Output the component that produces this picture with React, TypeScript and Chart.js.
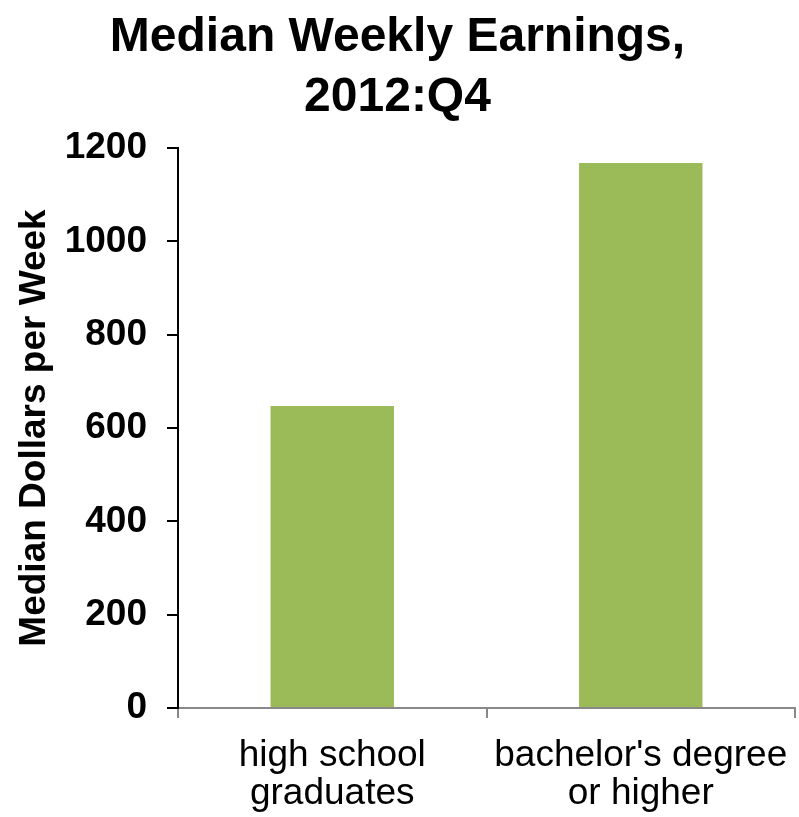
import React, { useEffect, useRef } from "react";
import { Chart, registerables } from "chart.js";

Chart.register(...registerables);

const titleLines = ["Median Weekly Earnings,", "2012:Q4"];
const categories = [["high school", "graduates"], ["bachelor's degree", "or higher"]];
const earnings = [647, 1168];
const yAxisTitle = "Median Dollars per Week";
const yMin = 0;
const yMax = 1200;
const yStep = 200;

const FONT = "'Liberation Sans', Arial, Helvetica, sans-serif";

export default function App() {
  const ref = useRef<HTMLCanvasElement | null>(null);

  useEffect(() => {
    if (!ref.current) return;
    const chart = new Chart(ref.current, {
      type: "bar",
      data: {
        labels: categories,
        datasets: [
          {
            data: earnings,
            backgroundColor: "#9BBB59",
            borderWidth: 0,
            barPercentage: 0.8,
            categoryPercentage: 0.5,
          },
        ],
      },
      options: {
        animation: false,
        responsive: true,
        maintainAspectRatio: false,
        layout: { padding: { left: 0, right: 4, top: 0, bottom: 0 } },
        plugins: {
          legend: { display: false },
          tooltip: { enabled: false },
          title: {
            display: true,
            text: titleLines,
            color: "#000",
            font: { family: FONT, size: 48, weight: "bold", lineHeight: 1.25 },
            padding: { top: 8, bottom: 20 },
          },
        },
        scales: {
          x: {
            z: 1,
            grid: {
              display: true,
              drawOnChartArea: false,
              drawTicks: true,
              tickLength: 10,
              color: "#888888",
              lineWidth: 2,
            },
            border: { display: true, color: "#888888", width: 2 },
            ticks: {
              color: "#000",
              font: { family: FONT, size: 37, lineHeight: 1.05 },
              padding: 18,
              maxRotation: 0,
              autoSkip: false,
            },
            afterFit: (scale: any) => {
              scale.height = 109;
              scale.paddingLeft = 0;
              scale.paddingRight = 0;
            },
          },
          y: {
            z: 1,
            min: yMin,
            max: yMax,
            grid: {
              display: true,
              drawOnChartArea: false,
              drawTicks: true,
              tickLength: 11,
              color: "#000",
              lineWidth: 2,
            },
            border: { display: true, color: "#000", width: 2 },
            ticks: {
              stepSize: yStep,
              color: "#000",
              font: { family: FONT, size: 37, weight: "bold" },
              padding: 20,
              callback: (v: any) => String(v),
            },
            title: {
              display: true,
              text: yAxisTitle,
              color: "#000",
              font: { family: FONT, size: 37, weight: "bold", lineHeight: 1.2 },
              padding: { top: 13, bottom: 0 },
            },
            afterFit: (scale: any) => {
              scale.width = 178;
            },
          },
        },
      },
    });
    return () => chart.destroy();
  }, []);

  return (
    <div style={{ position: "absolute", left: 0, top: 0, width: 799, height: 817, background: "#fff" }}>
      <canvas ref={ref} />
    </div>
  );
}
